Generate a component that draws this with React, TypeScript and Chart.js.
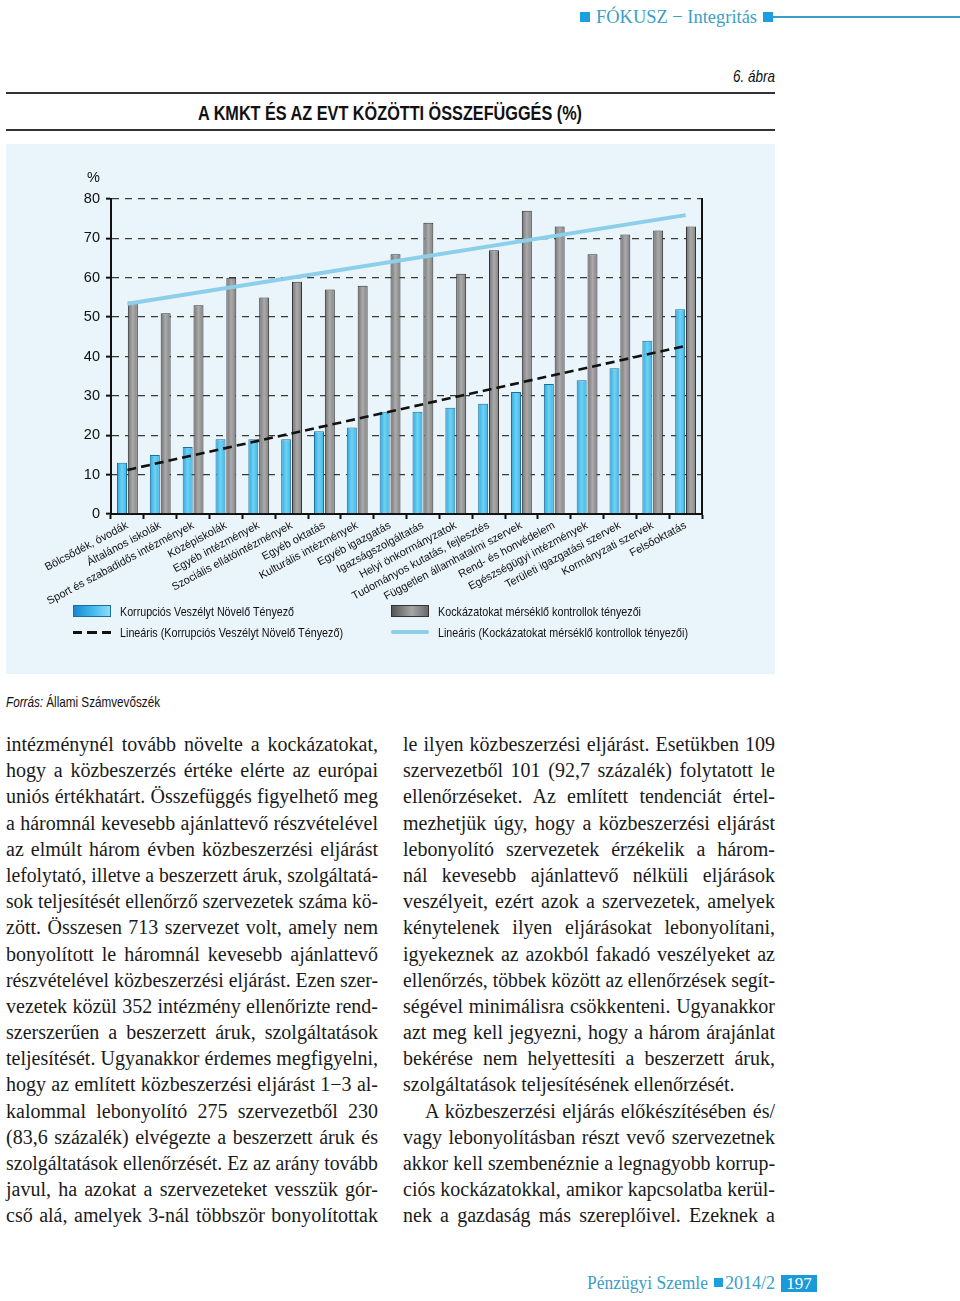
import React, { useEffect, useLayoutEffect, useRef } from "react";
import { Chart, registerables } from "chart.js";

Chart.register(...registerables);

// ---------- DATA ----------
const categories = [
  "Bölcsődék, óvodák",
  "Általános iskolák",
  "Sport és szabadidős intézmények",
  "Középiskolák",
  "Egyéb intézmények",
  "Szociális ellátóintézmények",
  "Egyéb oktatás",
  "Kulturális intézmények",
  "Egyéb igazgatás",
  "Igazságszolgáltatás",
  "Helyi önkormányzatok",
  "Tudományos kutatás, fejlesztés",
  "Független államhatalmi szervek",
  "Rend- és honvédelem",
  "Egészségügyi intézmények",
  "Területi igazgatási szervek",
  "Kormányzati szervek",
  "Felsőoktatás",
];
const corruptionRisk = [13, 15, 17, 19, 19, 19, 21, 22, 26, 26, 27, 28, 31, 33, 34, 37, 44, 52];
const riskControls = [54, 51, 53, 60, 55, 59, 57, 58, 66, 74, 61, 67, 77, 73, 66, 71, 72, 73];
// linear trend lines: only the end points (straight line drawn between them)
const corruptionTrend = [11.2, null, null, null, null, null, null, null, null, null, null, null, null, null, null, null, null, 42.7];
const controlsTrend = [53.4, null, null, null, null, null, null, null, null, null, null, null, null, null, null, null, null, 75.9];
const yMin = 0;
const yMax = 80;
const yStep = 10;
const yUnit = "%";
const seriesNames = [
  "Korrupciós Veszélyt Növelő Tényező",
  "Kockázatokat mérséklő kontrollok tényezői",
  "Lineáris (Korrupciós Veszélyt Növelő Tényező)",
  "Lineáris (Kockázatokat mérséklő kontrollok tényezői)",
];

const CAT_PCT = 0.66;
const BAR_PCT = 0.92;

const leftLines = [
  "intézménynél tovább növelte a kockázatokat,",
  "hogy a közbeszerzés értéke elérte az európai",
  "uniós értékhatárt. Összefüggés figyelhető meg",
  "a háromnál kevesebb ajánlattevő részvételével",
  "az elmúlt három évben közbeszerzési eljárást",
  "lefolytató, illetve a beszerzett áruk, szolgáltatá-",
  "sok teljesítését ellenőrző szervezetek száma kö-",
  "zött. Összesen 713 szervezet volt, amely nem",
  "bonyolított le háromnál kevesebb ajánlattevő",
  "részvételével közbeszerzési eljárást. Ezen szer-",
  "vezetek közül 352 intézmény ellenőrizte rend-",
  "szerszerűen a beszerzett áruk, szolgáltatások",
  "teljesítését. Ugyanakkor érdemes megfigyelni,",
  "hogy az említett közbeszerzési eljárást 1−3 al-",
  "kalommal lebonyolító 275 szervezetből 230",
  "(83,6 százalék) elvégezte a beszerzett áruk és",
  "szolgáltatások ellenőrzését. Ez az arány tovább",
  "javul, ha azokat a szervezeteket vesszük gór-",
  "cső alá, amelyek 3-nál többször bonyolítottak",
];
const rightLines = [
  "le ilyen közbeszerzési eljárást. Esetükben 109",
  "szervezetből 101 (92,7 százalék) folytatott le",
  "ellenőrzéseket. Az említett tendenciát értel-",
  "mezhetjük úgy, hogy a közbeszerzési eljárást",
  "lebonyolító szervezetek érzékelik a három-",
  "nál kevesebb ajánlattevő nélküli eljárások",
  "veszélyeit, ezért azok a szervezetek, amelyek",
  "kénytelenek ilyen eljárásokat lebonyolítani,",
  "igyekeznek az azokból fakadó veszélyeket az",
  "ellenőrzés, többek között az ellenőrzések segít-",
  "ségével minimálisra csökkenteni. Ugyanakkor",
  "azt meg kell jegyezni, hogy a három árajánlat",
  "bekérése nem helyettesíti a beszerzett áruk,",
  "szolgáltatások teljesítésének ellenőrzését.",
  "A közbeszerzési eljárás előkészítésében és/",
  "vagy lebonyolításban részt vevő szervezetnek",
  "akkor kell szembenéznie a legnagyobb korrup-",
  "ciós kockázatokkal, amikor kapcsolatba kerül-",
  "nek a gazdaság más szereplőivel. Ezeknek a",
];
const rightParaEnd = 13; // last line of the first paragraph
const rightIndent = 14; // indented first line of the second paragraph

// ---------- STYLES ----------
const TEAL = "#3a9ec6";
const SQUARE = "#1c9fe0";
const SANS = "'Liberation Sans', Arial, sans-serif";
const SERIF = "'Liberation Serif', 'DejaVu Serif', serif";
const BODY_SIZE = 20;
const COL_W = 372;

let measureCtx: CanvasRenderingContext2D | null = null;
function measure(t: string, font: string) {
  if (!measureCtx) measureCtx = document.createElement("canvas").getContext("2d");
  measureCtx!.font = font;
  return measureCtx!.measureText(t).width;
}

function FitText({ width, style, children }: { width: number; style?: React.CSSProperties; children: React.ReactNode }) {
  const ref = useRef<HTMLSpanElement | null>(null);
  useLayoutEffect(() => {
    const el = ref.current;
    if (!el) return;
    el.style.transform = "none";
    const w = el.getBoundingClientRect().width;
    if (w > 0) el.style.transform = `scaleX(${width / w})`;
  });
  return (
    <span ref={ref} style={{ display: "inline-block", whiteSpace: "nowrap", transformOrigin: "0 50%", ...style }}>
      {children}
    </span>
  );
}

function barGradient(c: any, side: "left" | "right", stops: string[]) {
  if (c.type !== "data") return stops[1];
  const chart = c.chart;
  const xs = chart.scales.x;
  if (!xs || !chart.chartArea) return stops[1];
  const center = xs.getPixelForValue(c.dataIndex);
  const catW = xs.width / categories.length;
  const half = (catW * CAT_PCT) / 2;
  const x0 = side === "left" ? center - half : center;
  const x1 = x0 + half;
  const g = chart.ctx.createLinearGradient(x0, 0, x1, 0);
  g.addColorStop(0, stops[0]);
  g.addColorStop(0.5, stops[1]);
  g.addColorStop(1, stops[2]);
  return g;
}

const unitPlugin = {
  id: "unitLabel",
  afterDraw(chart: any) {
    const ys = chart.scales.y;
    const ctx = chart.ctx;
    ctx.save();
    ctx.font = `14.5px ${SANS}`;
    ctx.fillStyle = "#111";
    ctx.textAlign = "right";
    ctx.textBaseline = "middle";
    ctx.fillText(yUnit, ys.right - 11, chart.chartArea.top - 21);
    ctx.restore();
  },
};

function ChartCanvas() {
  const ref = useRef<HTMLCanvasElement | null>(null);
  useEffect(() => {
    if (!ref.current) return;
    const chart = new Chart(ref.current, {
      type: "bar",
      data: {
        labels: categories,
        datasets: [
          {
            type: "bar",
            label: seriesNames[0],
            data: corruptionRisk,
            backgroundColor: (c: any) => barGradient(c, "left", ["#2aa3da", "#6fd2f4", "#36b2e6"]),
            borderColor: "#1b6f9e",
            borderWidth: 1,
            categoryPercentage: CAT_PCT,
            barPercentage: BAR_PCT,
            order: 2,
          },
          {
            type: "bar",
            label: seriesNames[1],
            data: riskControls,
            backgroundColor: (c: any) => barGradient(c, "right", ["#6f6f6f", "#ababab", "#7c7c7c"]),
            borderColor: "#333333",
            borderWidth: 1,
            categoryPercentage: CAT_PCT,
            barPercentage: BAR_PCT,
            order: 2,
          },
          {
            type: "line",
            label: seriesNames[2],
            data: corruptionTrend as any,
            borderColor: "#111111",
            borderWidth: 2.6,
            borderDash: [9, 5],
            pointRadius: 0,
            spanGaps: true,
            fill: false,
            order: 0,
          },
          {
            type: "line",
            label: seriesNames[3],
            data: controlsTrend as any,
            borderColor: "#8ccfea",
            borderWidth: 4,
            pointRadius: 0,
            spanGaps: true,
            fill: false,
            order: 1,
          },
        ] as any,
      },
      options: {
        responsive: false,
        animation: false,
        devicePixelRatio: 1,
        layout: { padding: { left: 0, top: 55, right: 73, bottom: 12 } },
        plugins: { legend: { display: false }, tooltip: { enabled: false } },
        scales: {
          x: {
            offset: true,
            grid: {
              offset: true,
              drawOnChartArea: false,
              drawTicks: true,
              tickLength: 5,
              tickColor: "#111",
              tickWidth: 2,
            },
            border: { display: true, color: "#111", width: 2 },
            ticks: {
              autoSkip: false,
              maxRotation: 28,
              minRotation: 28,
              padding: 0,
              color: "#111",
              font: { family: SANS, size: 11 },
            },
            afterFit: (s: any) => {
              s.height = 90;
            },
          },
          y: {
            min: yMin,
            max: yMax,
            ticks: {
              stepSize: yStep,
              padding: 6,
              color: "#111",
              font: { family: SANS, size: 14.5 },
            },
            grid: {
              color: "#3a3a3a",
              lineWidth: 1.3,
              tickLength: 5,
              tickColor: "#111",
              tickWidth: 2,
              tickBorderDash: [],
            },
            border: { display: true, color: "#111", width: 2, dash: [7, 6] },
            afterFit: (s: any) => {
              s.width = 105;
            },
          },
          y2: {
            position: "right",
            min: yMin,
            max: yMax,
            ticks: { display: false },
            grid: { drawOnChartArea: false, drawTicks: false },
            border: { display: true, color: "#111", width: 2 },
            afterFit: (s: any) => {
              s.width = 0;
            },
          },
        },
      } as any,
      plugins: [unitPlugin],
    });
    return () => chart.destroy();
  }, []);
  // chart area: top 55, height ~315, x-axis box 90, padding 12
  return <canvas ref={ref} width={769} height={472} style={{ position: "absolute", left: 0, top: 0, width: 769, height: 472 }} />;
}

function LegendRow({ left, top, swatch, text, textWidth }: { left: number; top: number; swatch: React.ReactNode; text: string; textWidth: number }) {
  return (
    <>
      <div style={{ position: "absolute", left, top: top - 6, width: 38, height: 12 }}>{swatch}</div>
      <div style={{ position: "absolute", left: left + 47, top: top - 9, height: 18, lineHeight: "18px" }}>
        <FitText width={textWidth} style={{ fontFamily: SANS, fontSize: 13.5, color: "#111" }}>
          {text}
        </FitText>
      </div>
    </>
  );
}

function BodyLine({ text, justify, indent }: { text: string; justify: boolean; indent: number }) {
  const font = `${BODY_SIZE}px 'Liberation Serif'`;
  const avail = COL_W - indent;
  const natural = typeof document !== "undefined" ? measure(text, font) : 0;
  const base: React.CSSProperties = {
    height: 26.2,
    lineHeight: "26.2px",
    fontFamily: SERIF,
    fontSize: BODY_SIZE,
    color: "#1a1a1a",
    paddingLeft: indent,
    whiteSpace: "nowrap",
  };
  if (natural > avail) {
    return (
      <div style={base}>
        <span style={{ display: "inline-block", transformOrigin: "0 50%", transform: `scaleX(${avail / natural})` }}>{text}</span>
      </div>
    );
  }
  return <div style={{ ...base, textAlign: "justify", textAlignLast: justify ? "justify" : "left" }}>{text}</div>;
}

function Column({ lines, left, justifyLast, indentIdx }: { lines: string[]; left: number; justifyLast: (i: number) => boolean; indentIdx: number }) {
  return (
    <div style={{ position: "absolute", left, top: 731, width: COL_W }}>
      {lines.map((l, i) => (
        <BodyLine key={i} text={l} justify={justifyLast(i)} indent={i === indentIdx ? 22 : 0} />
      ))}
    </div>
  );
}

export default function App() {
  return (
    <div style={{ position: "absolute", left: 0, top: 0, width: 960, height: 1301, background: "#fff", overflow: "hidden" }}>
      {/* header */}
      <div style={{ position: "absolute", left: 580, top: 12, width: 10, height: 10, background: SQUARE }} />
      <div style={{ position: "absolute", left: 596, top: 5, height: 24, lineHeight: "24px" }}>
        <FitText width={161} style={{ fontFamily: SERIF, fontSize: 19, color: TEAL }}>
          FÓKUSZ − Integritás
        </FitText>
      </div>
      <div style={{ position: "absolute", left: 763, top: 12, width: 10, height: 10, background: SQUARE }} />
      <div style={{ position: "absolute", left: 773, top: 16, width: 187, height: 1.5, background: TEAL }} />

      <div style={{ position: "absolute", left: 733, top: 66, height: 22, lineHeight: "22px" }}>
        <FitText width={42} style={{ fontFamily: SANS, fontStyle: "italic", fontSize: 17, color: "#111" }}>
          6. ábra
        </FitText>
      </div>
      <div style={{ position: "absolute", left: 6, top: 92, width: 769, height: 2, background: "#333" }} />
      <div style={{ position: "absolute", left: 198, top: 100, height: 26, lineHeight: "26px" }}>
        <FitText width={384} style={{ fontFamily: SANS, fontWeight: "bold", fontSize: 19.5, color: "#111" }}>
          A KMKT ÉS AZ EVT KÖZÖTTI ÖSSZEFÜGGÉS (%)
        </FitText>
      </div>
      <div style={{ position: "absolute", left: 6, top: 129, width: 769, height: 2, background: "#333" }} />

      {/* chart panel */}
      <div style={{ position: "absolute", left: 6, top: 144, width: 769, height: 530, background: "#e9f4fb" }}>
        <ChartCanvas />
        <LegendRow
          left={67}
          top={467}
          text={seriesNames[0]}
          textWidth={174}
          swatch={<div style={{ width: "100%", height: "100%", boxSizing: "border-box", border: "1px solid #1b6f9e", background: "linear-gradient(to right, #1a86cf, #45bdee 55%, #8edcf6)" }} />}
        />
        <LegendRow
          left={67}
          top={488}
          text={seriesNames[2]}
          textWidth={223}
          swatch={<div style={{ marginTop: 5, width: "100%", height: 3, background: "repeating-linear-gradient(to right, #111 0 9px, transparent 9px 14.5px)" }} />}
        />
        <LegendRow
          left={385}
          top={467}
          text={seriesNames[1]}
          textWidth={203}
          swatch={<div style={{ width: "100%", height: "100%", boxSizing: "border-box", border: "1px solid #333", background: "linear-gradient(to right, #555, #a6a6a6 55%, #6a6a6a)" }} />}
        />
        <LegendRow
          left={385}
          top={488}
          text={seriesNames[3]}
          textWidth={250}
          swatch={<div style={{ marginTop: 4, width: "100%", height: 4, background: "#8ccfea", borderRadius: 2 }} />}
        />
      </div>

      <div style={{ position: "absolute", left: 6, top: 692, height: 20, lineHeight: "20px" }}>
        <FitText width={154} style={{ fontFamily: SANS, fontSize: 14.5, color: "#111" }}>
          <span style={{ fontStyle: "italic" }}>Forrás:</span> Állami Számvevőszék
        </FitText>
      </div>

      {/* body text */}
      <Column lines={leftLines} left={6} justifyLast={() => true} indentIdx={-1} />
      <Column lines={rightLines} left={403} justifyLast={(i) => i !== rightParaEnd} indentIdx={rightIndent} />

      {/* footer */}
      <div style={{ position: "absolute", left: 587, top: 1272, height: 22, lineHeight: "22px" }}>
        <FitText width={121} style={{ fontFamily: SERIF, fontSize: 18.5, color: TEAL }}>
          Pénzügyi Szemle
        </FitText>
      </div>
      <div style={{ position: "absolute", left: 714, top: 1278, width: 9, height: 9, background: SQUARE }} />
      <div style={{ position: "absolute", left: 725, top: 1272, height: 22, lineHeight: "22px" }}>
        <FitText width={50} style={{ fontFamily: SERIF, fontSize: 18.5, color: TEAL }}>
          2014/2
        </FitText>
      </div>
      <div style={{ position: "absolute", left: 781, top: 1275, width: 36, height: 17, background: "#1a9ad9", color: "#fff", fontFamily: SERIF, fontSize: 17, lineHeight: "17px", textAlign: "center" }}>
        197
      </div>
    </div>
  );
}
